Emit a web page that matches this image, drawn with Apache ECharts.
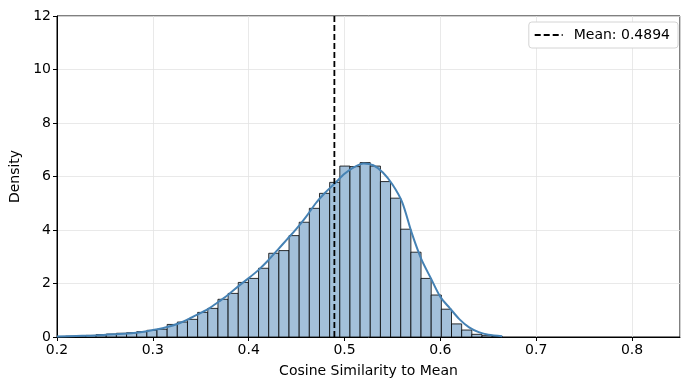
<!DOCTYPE html>
<html>
<head>
<meta charset="utf-8">
<script src="https://cdn.jsdelivr.net/npm/echarts@6/dist/echarts.min.js"></script>
<style>
  html, body { margin: 0; padding: 0; background: #fff; }
  #chart { width: 690px; height: 390px; }
</style>
</head>
<body>
<div id="chart"></div>
<script>
// histogram: first bin edge, bin width, densities per bin
const binStart = 0.1984;
const binWidth = 0.010595;
const binDensity = [
  0.02, 0.03, 0.04, 0.06, 0.09, 0.11, 0.14, 0.16, 0.20, 0.25,
  0.29, 0.47, 0.56, 0.66, 0.92, 1.07, 1.41, 1.63, 2.04, 2.19,
  2.57, 3.13, 3.23, 3.79, 4.29, 4.81, 5.37, 5.78, 6.39, 6.37,
  6.52, 6.39, 5.81, 5.19, 4.03, 3.17, 2.19, 1.57, 1.04, 0.49,
  0.26, 0.10, 0.05, 0.02
];

// KDE curve
const kdeX = [0.20, 0.22, 0.24, 0.26, 0.28, 0.30, 0.31, 0.32, 0.33, 0.34,
  0.35, 0.36, 0.37, 0.38, 0.39, 0.40, 0.41, 0.42, 0.43, 0.44,
  0.45, 0.46, 0.47, 0.48, 0.49, 0.50, 0.51, 0.52, 0.53, 0.54,
  0.55, 0.56, 0.57, 0.58, 0.59, 0.60, 0.61, 0.62, 0.63, 0.64,
  0.65, 0.6645];
const kdeY = [0.02, 0.04, 0.06, 0.10, 0.15, 0.26, 0.33, 0.42, 0.55, 0.72,
  0.90, 1.10, 1.35, 1.62, 1.92, 2.20, 2.50, 2.85, 3.25, 3.65,
  4.05, 4.50, 5.00, 5.40, 5.75, 6.10, 6.35, 6.49, 6.42, 6.15,
  5.70, 5.05, 3.90, 2.92, 2.20, 1.50, 1.07, 0.66, 0.36, 0.18,
  0.08, 0.03];

const meanValue = 0.4894;
const xTicks = [0.2, 0.3, 0.4, 0.5, 0.6, 0.7, 0.8];

const font = 'DejaVu Sans';
const chart = echarts.init(document.getElementById('chart'));

const histData = binDensity.map((d, i) => [binStart + i * binWidth, binStart + (i + 1) * binWidth, d]);
const kdeData = kdeX.map((x, i) => [x, kdeY[i]]);
const meanLabel = 'Mean: ' + meanValue.toFixed(4);

chart.setOption({
  animation: false,
  grid: { left: 57, right: 10, top: 16, bottom: 53, show: true, borderColor: '#000', borderWidth: 1 },
  legend: {
    data: [meanLabel],
    right: 12, top: 22,
    orient: 'vertical',
    borderColor: '#d4d4d4', borderWidth: 1, borderRadius: 3,
    backgroundColor: '#fff',
    padding: [6, 8, 6, 5],
    itemWidth: 28, itemHeight: 10, itemGap: 6,
    itemStyle: { opacity: 0 },
    lineStyle: { color: '#000', width: 1.8, type: [6, 3] },
    textStyle: { fontFamily: font, fontSize: 14, color: '#000', padding: [0, 0, 0, 6] }
  },
  xAxis: {
    type: 'value', min: 0.2, max: 0.85, interval: 0.1,
    name: 'Cosine Similarity to Mean', nameLocation: 'middle', nameGap: 27,
    nameTextStyle: { fontFamily: font, fontSize: 14, color: '#000' },
    axisLine: { show: true, onZero: false, lineStyle: { color: '#000', width: 1 } },
    axisTick: { show: true, inside: false, length: 4, lineStyle: { color: '#000' } },
    axisLabel: {
      fontFamily: font, fontSize: 14, color: '#000', margin: 6, showMaxLabel: false,
      formatter: v => xTicks.some(t => Math.abs(t - v) < 1e-6) ? v.toFixed(1) : ''
    },
    splitLine: { show: true, lineStyle: { color: '#e3e3e3', width: 0.8 } }
  },
  yAxis: {
    type: 'value', min: 0, max: 12, interval: 2,
    name: 'Density', nameLocation: 'middle', nameGap: 35,
    nameTextStyle: { fontFamily: font, fontSize: 14, color: '#000' },
    axisLine: { show: true, lineStyle: { color: '#000', width: 1 } },
    axisTick: { show: true, inside: false, length: 4, lineStyle: { color: '#000' } },
    axisLabel: { fontFamily: font, fontSize: 14, color: '#000', margin: 6 },
    splitLine: { show: true, lineStyle: { color: '#e3e3e3', width: 0.8 } }
  },
  series: [
    {
      type: 'custom',
      name: 'hist',
      clip: true,
      data: histData,
      encode: { x: [0, 1], y: 2 },
      renderItem: function (params, api) {
        const p0 = api.coord([api.value(0), api.value(2)]);
        const p1 = api.coord([api.value(1), 0]);
        return {
          type: 'rect',
          shape: { x: p0[0], y: p0[1], width: p1[0] - p0[0], height: p1[1] - p0[1] },
          style: { fill: '#a3c0da', stroke: '#000', lineWidth: 0.8 }
        };
      },
      z: 2
    },
    {
      type: 'line',
      name: 'kde',
      data: kdeData,
      smooth: 0.3,
      showSymbol: false,
      clip: true,
      lineStyle: { color: '#4682b4', width: 2 },
      z: 3
    },
    {
      type: 'line',
      name: meanLabel,
      data: [[meanValue, 0], [meanValue, 12]],
      showSymbol: false,
      symbol: 'none',
      itemStyle: { color: '#000' },
      lineStyle: { color: '#000', width: 1.8, type: [6, 3] },
      z: 4
    }
  ]
});
</script>
</body>
</html>
